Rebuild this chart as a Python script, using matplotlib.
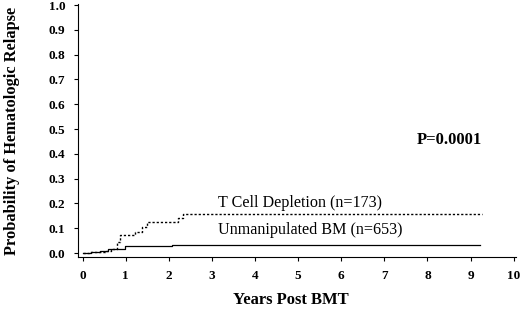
import matplotlib
matplotlib.use('Agg')
import matplotlib.pyplot as plt

plt.rcParams['font.family'] = ['Liberation Serif', 'DejaVu Serif']

# T cell depleted BM, cumulative probability of relapse (step curve)
tcd_years = [0.0, 0.15, 0.3, 0.52, 0.67, 0.79, 0.87, 1.10, 1.22, 1.37, 1.49, 2.14, 2.22, 2.34, 9.27]
tcd_prob = [0.0, 0.003, 0.005, 0.008, 0.016, 0.046, 0.073, 0.073, 0.086, 0.107, 0.124, 0.124, 0.14, 0.158, 0.158]

# unmanipulated BM
unm_years = [0.0, 0.2, 0.4, 0.6, 0.83, 0.98, 2.07, 9.22]
unm_prob = [0.0, 0.004, 0.008, 0.015, 0.016, 0.028, 0.032, 0.032]

xticks = list(range(0, 11))
yticks = [i / 10 for i in range(0, 11)]

fig = plt.figure(figsize=(5.2, 3.14), dpi=100)
ax = fig.add_axes([0.15, 0.1815, 0.842, 0.8055])

ax.plot(tcd_years, tcd_prob, drawstyle='steps-post', color='black', lw=1.0, ls=(0, (1.6, 1.4)))
ax.plot(unm_years, unm_prob, drawstyle='steps-post', color='black', lw=0.9)

ax.set_xlim(-0.107, 10.05)
ax.set_ylim(-0.016, 1.004)
ax.set_xticks(xticks)
ax.set_yticks(yticks)
ax.set_xticklabels([str(t) for t in xticks], fontsize=9.5, fontweight='bold')
ax.set_yticklabels(['%.1f' % t for t in yticks], fontsize=9.5, fontweight='bold')
ax.tick_params(direction='out', length=3, width=0.8)
ax.tick_params(axis='y', pad=6)
ax.tick_params(axis='x', pad=6)
ax.spines['top'].set_visible(False)
ax.spines['right'].set_visible(False)

ax.text(3.13, 0.2, 'T Cell Depletion (n=173)', fontsize=11.6, va='center')
ax.text(3.13, 0.093, 'Unmanipulated BM (n=653)', fontsize=11.6, va='center')
ax.text(7.75, 0.457, 'P=0.0001', fontsize=12, fontweight='bold', va='center')

ax.set_xlabel('Years Post BMT', fontsize=12, fontweight='bold')
ax.set_ylabel('Probability of Hematologic Relapse', fontsize=11.8, fontweight='bold')
ax.xaxis.set_label_coords(0.486, -0.138)
ax.yaxis.set_label_coords(-0.132, 0.5)

fig.savefig('out.png', dpi=100)
